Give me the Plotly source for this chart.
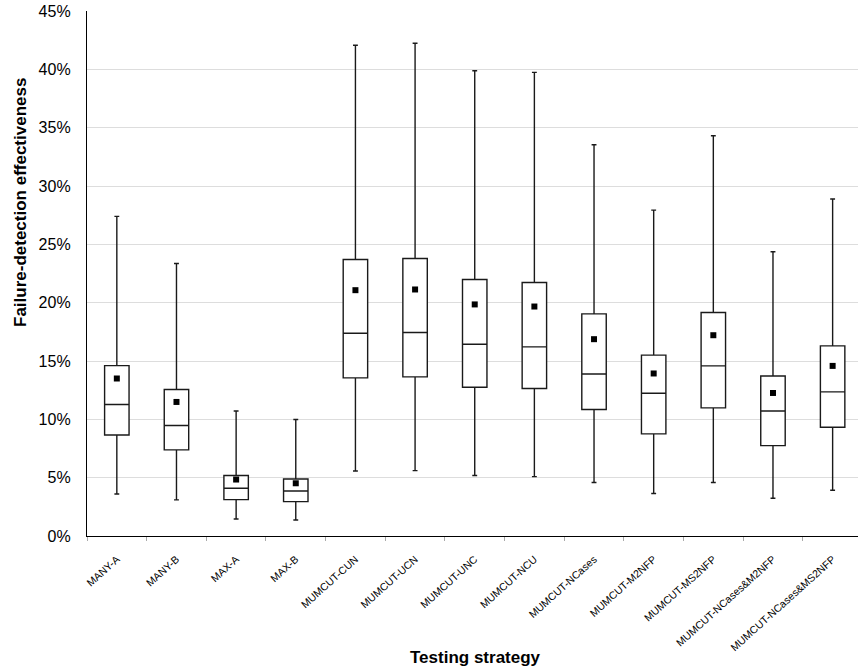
import plotly.graph_objects as go

strategies = ["MANY-A", "MANY-B", "MAX-A", "MAX-B", "MUMCUT-CUN", "MUMCUT-UCN",
              "MUMCUT-UNC", "MUMCUT-NCU", "MUMCUT-NCases", "MUMCUT-M2NFP",
              "MUMCUT-MS2NFP", "MUMCUT-NCases&M2NFP", "MUMCUT-NCases&MS2NFP"]
minimum = [3.6, 3.1, 1.46, 1.37, 5.57, 5.6, 5.18, 5.09, 4.58, 3.64, 4.58, 3.23, 3.92]
q1 = [8.66, 7.38, 3.12, 2.95, 13.55, 13.64, 12.75, 12.64, 10.84, 8.75, 10.98, 7.75, 9.32]
median = [11.27, 9.47, 4.09, 3.86, 17.38, 17.44, 16.44, 16.21, 13.89, 12.24, 14.58, 10.72, 12.35]
q3 = [14.6, 12.56, 5.18, 4.89, 23.7, 23.79, 21.99, 21.73, 19.04, 15.5, 19.16, 13.72, 16.3]
maximum = [27.4, 23.36, 10.72, 9.98, 42.06, 42.23, 39.88, 39.74, 33.53, 27.93, 34.31, 24.36, 28.88]
mean = [13.5, 11.49, 4.84, 4.52, 21.07, 21.13, 19.85, 19.67, 16.87, 13.93, 17.21, 12.26, 14.58]

FONT = "Liberation Sans, Arial, sans-serif"
W, H = 858, 672
L, T, B = 87, 11, 136
cat_px = 59.65
visible_cats = (W - L) / cat_px

fig = go.Figure()
fig.add_trace(go.Box(
    x=strategies, q1=q1, median=median, q3=q3,
    lowerfence=minimum, upperfence=maximum,
    fillcolor="white", line=dict(color="#1a1a1a", width=1.4),
    width=0.41, whiskerwidth=0.2, boxpoints=False, hoverinfo="skip",
    showlegend=False,
))
fig.add_trace(go.Scatter(
    x=strategies, y=mean, mode="markers",
    marker=dict(symbol="square", size=6, color="black"),
    showlegend=False, hoverinfo="skip",
))

fig.update_layout(
    width=W, height=H,
    margin=dict(l=L, r=0, t=T, b=B),
    plot_bgcolor="white", paper_bgcolor="white",
    font=dict(family=FONT, color="black"),
    xaxis=dict(
        type="category", range=[-0.5, -0.5 + visible_cats],
        tickson="boundaries", ticks="outside", ticklen=4, tickcolor="#aaaaaa",
        tickangle=-42, tickfont=dict(size=10.5, family=FONT),
        ticklabelstandoff=12,
        showline=True, linecolor="black", linewidth=1.3,
        showgrid=False, zeroline=False,
    ),
    yaxis=dict(
        range=[0, 45], dtick=5, ticksuffix="%",
        tickfont=dict(size=16, family=FONT),
        showgrid=True, gridcolor="#dddddd", gridwidth=1,
        showline=True, linecolor="black", linewidth=1.3,
        zeroline=False, ticks="", ticklabelstandoff=12,
    ),
    annotations=[
        dict(text="<b>Testing strategy</b>", xref="paper", yref="paper",
             x=(475 - L) / (W - L), y=-(657 - (H - B)) / (H - B - T),
             xanchor="center", yanchor="middle", showarrow=False,
             font=dict(size=17, family=FONT)),
        dict(text="<b>Failure-detection effectiveness</b>", xref="paper", yref="paper",
             x=-(L - 20) / (W - L), y=((H - B) - 203) / (H - B - T),
             xanchor="center", yanchor="middle", textangle=-90, showarrow=False,
             font=dict(size=17, family=FONT)),
    ],
)

fig.write_html("out.html")
